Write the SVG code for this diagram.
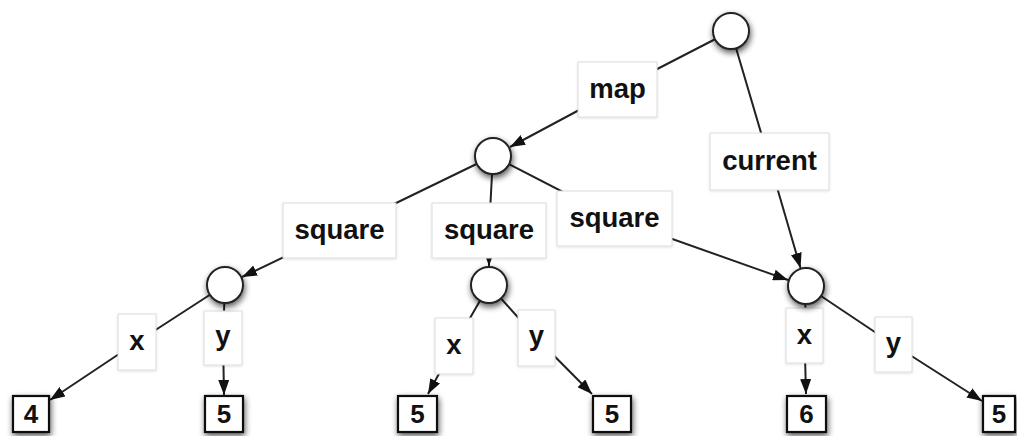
<svg xmlns="http://www.w3.org/2000/svg" width="1017" height="436" viewBox="0 0 1017 436">
  <defs>
    <filter id="shadow" x="-50%" y="-50%" width="200%" height="200%">
      <feGaussianBlur in="SourceAlpha" stdDeviation="3.2"/>
      <feOffset dx="1" dy="3" result="blur"/>
      <feComponentTransfer><feFuncA type="linear" slope="0.65"/></feComponentTransfer>
      <feMerge><feMergeNode/><feMergeNode in="SourceGraphic"/></feMerge>
    </filter>
    <filter id="soft" x="-20%" y="-20%" width="140%" height="140%">
      <feGaussianBlur in="SourceAlpha" stdDeviation="1.5"/>
      <feOffset dx="0" dy="1"/>
      <feComponentTransfer><feFuncA type="linear" slope="0.12"/></feComponentTransfer>
      <feMerge><feMergeNode/><feMergeNode in="SourceGraphic"/></feMerge>
    </filter>
    <marker id="arrow" viewBox="0 0 15 11" refX="15" refY="5.5" markerWidth="15" markerHeight="11" markerUnits="userSpaceOnUse" orient="auto">
      <path d="M0,0 L15,5.5 L0,11 Z" fill="#111"/>
    </marker>
  </defs>
  <style>
    .edge { fill: none; stroke: #222; stroke-width: 2; marker-end: url(#arrow); }
    .obj { fill: #fff; stroke: #222; stroke-width: 2; filter: url(#shadow); }
    .leaf { fill: #fff; stroke: #111; stroke-width: 2.2; filter: url(#shadow); }
    .lbl { fill: #fff; stroke: #dcdcdc; stroke-width: 1; filter: url(#soft); }
    text { font-family: "Liberation Sans", Arial, sans-serif; font-weight: bold; font-size: 27.5px; fill: #111; text-anchor: middle; }
    .num { font-size: 26px; }
  </style>

  <rect width="1017" height="436" fill="#fff"/>

  <!-- connectors: source → label centre → target -->
  <g id="connectors">
    <polyline class="edge" points="731,31 617.5,89.5 510,147"/>
    <polyline class="edge" points="731,31 769.5,161.5 800.5,268"/>
    <polyline class="edge" points="493,156 339.5,230.5 242,277"/>
    <polyline class="edge" points="493,156 489,230.5 489,266"/>
    <polyline class="edge" points="493,156 614.5,218.5 788,280"/>
    <polyline class="edge" points="225,285 137,342 50,400"/>
    <polyline class="edge" points="225,285 223,338 224,395"/>
    <polyline class="edge" points="489,285 454,346 428,394"/>
    <polyline class="edge" points="489,285 536.5,338 592,394"/>
    <polyline class="edge" points="806,286 804.5,335.5 806,394"/>
    <polyline class="edge" points="806,286 893.5,344.5 982,401"/>
  </g>

  <!-- edge labels -->
  <g id="label-map"><rect class="lbl" x="578" y="62" width="79" height="55"/><text x="617.5" y="98">map</text></g>
  <g id="label-current"><rect class="lbl" x="710" y="133" width="119" height="57"/><text x="769.5" y="170">current</text></g>
  <g id="label-square-1"><rect class="lbl" x="283" y="203" width="113" height="55"/><text x="339.5" y="239">square</text></g>
  <g id="label-square-2"><rect class="lbl" x="432" y="203" width="114" height="55"/><text x="489" y="239">square</text></g>
  <g id="label-square-3"><rect class="lbl" x="557" y="191" width="115" height="55"/><text x="614.5" y="227">square</text></g>
  <g id="label-x-1"><rect class="lbl" x="118" y="314" width="38" height="56"/><text x="137" y="350">x</text></g>
  <g id="label-y-1"><rect class="lbl" x="204" y="311" width="38" height="54"/><text x="223" y="345">y</text></g>
  <g id="label-x-2"><rect class="lbl" x="435" y="318" width="38" height="56"/><text x="454" y="354">x</text></g>
  <g id="label-y-2"><rect class="lbl" x="518" y="310" width="37" height="56"/><text x="536.5" y="345">y</text></g>
  <g id="label-x-3"><rect class="lbl" x="786" y="308" width="37" height="55"/><text x="804.5" y="344">x</text></g>
  <g id="label-y-3"><rect class="lbl" x="875" y="317" width="37" height="55"/><text x="893.5" y="352">y</text></g>

  <!-- object nodes -->
  <g id="node-root"><circle class="obj" cx="731" cy="31" r="18"/></g>
  <g id="node-list"><circle class="obj" cx="493" cy="156" r="18"/></g>
  <g id="node-p1"><circle class="obj" cx="225" cy="285" r="18"/></g>
  <g id="node-p2"><circle class="obj" cx="489" cy="285" r="18"/></g>
  <g id="node-p3"><circle class="obj" cx="806" cy="286" r="18"/></g>

  <!-- value leaves -->
  <g id="leaf-4"><rect class="leaf" x="13" y="396" width="36" height="36"/><text class="num" x="31" y="423">4</text></g>
  <g id="leaf-5a"><rect class="leaf" x="205" y="396" width="38" height="36"/><text class="num" x="224" y="423">5</text></g>
  <g id="leaf-5b"><rect class="leaf" x="398" y="396" width="39" height="36"/><text class="num" x="417.5" y="423">5</text></g>
  <g id="leaf-5c"><rect class="leaf" x="593" y="396" width="38" height="36"/><text class="num" x="612" y="423">5</text></g>
  <g id="leaf-6"><rect class="leaf" x="787" y="396" width="39" height="36"/><text class="num" x="806.5" y="423">6</text></g>
  <g id="leaf-5d"><rect class="leaf" x="983" y="396" width="32" height="36"/><text class="num" x="999" y="423">5</text></g>
</svg>
